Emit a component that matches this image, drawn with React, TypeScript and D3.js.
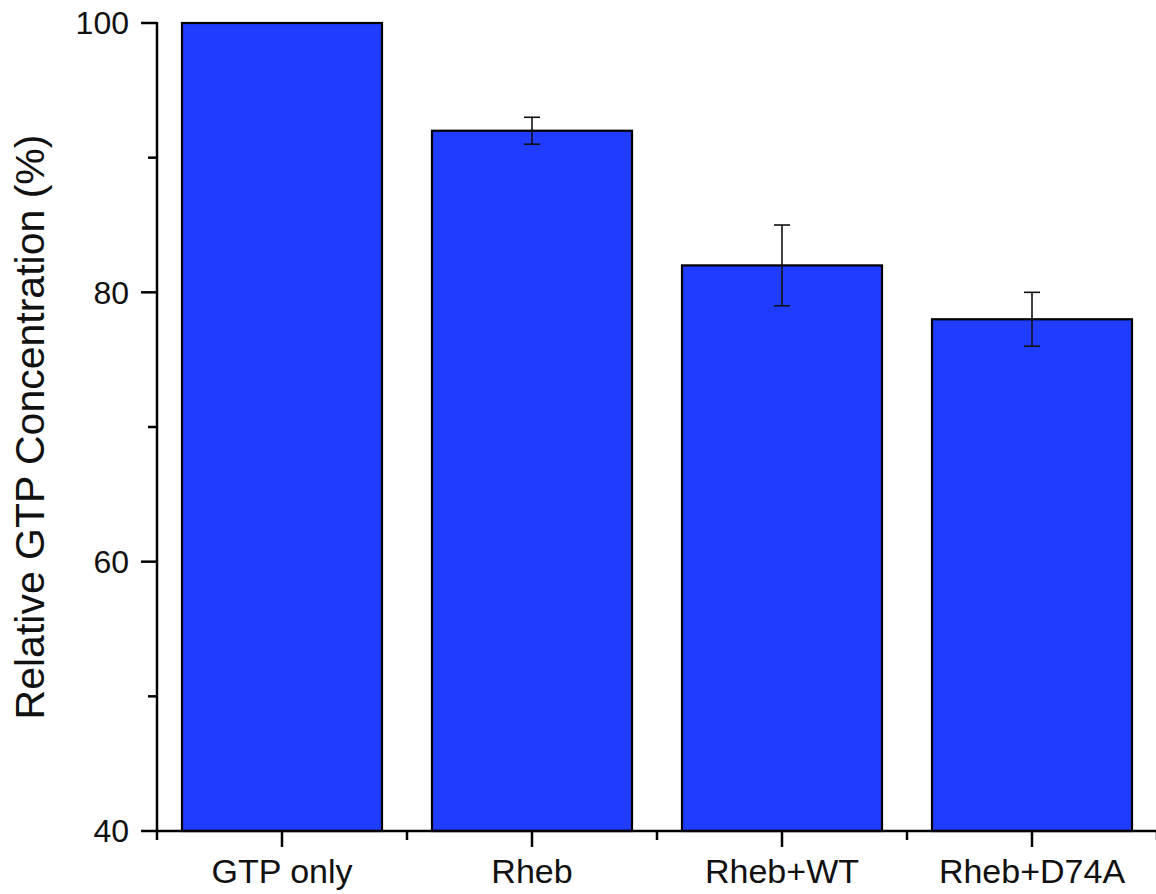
import React from "react";
import * as d3 from "d3";

const categories = ["GTP only", "Rheb", "Rheb+WT", "Rheb+D74A"];
const values = [100, 92, 82, 78];
const errors = [0, 1, 3, 2];
const yMajorTicks = [40, 60, 80, 100];
const yMinorTicks = [50, 70, 90];

const W = 1156;
const H = 894;
const left = 157;
const right = 1157;
const top = 23;
const bottom = 831;

export default function App() {
  const x = d3.scaleBand<string>().domain(categories).range([left, right]).paddingInner(0.2).paddingOuter(0.1);
  const y = d3.scaleLinear().domain([40, 100]).range([bottom, top]);
  const step = x.step();
  const font = "Arial, 'Liberation Sans', Helvetica, sans-serif";
  const minorX = d3.range(categories.length + 1).map((i) => left + i * step);

  return (
    <svg width={W} height={H} style={{ position: "absolute", left: 0, top: 0, background: "#fff" }}>
      {/* bars */}
      {categories.map((c, i) => (
        <rect
          key={c}
          x={x(c)}
          y={y(values[i])}
          width={x.bandwidth()}
          height={bottom - y(values[i])}
          fill="#1f3cff"
          stroke="#000"
          strokeWidth={2.2}
        />
      ))}
      {/* error bars */}
      {categories.map((c, i) =>
        errors[i] > 0 ? (
          <g key={"e" + c} stroke="#111" strokeWidth={1.6}>
            <line x1={x(c)! + x.bandwidth() / 2} x2={x(c)! + x.bandwidth() / 2} y1={y(values[i] + errors[i])} y2={y(values[i] - errors[i])} />
            <line x1={x(c)! + x.bandwidth() / 2 - 8} x2={x(c)! + x.bandwidth() / 2 + 8} y1={y(values[i] + errors[i])} y2={y(values[i] + errors[i])} />
            <line x1={x(c)! + x.bandwidth() / 2 - 8} x2={x(c)! + x.bandwidth() / 2 + 8} y1={y(values[i] - errors[i])} y2={y(values[i] - errors[i])} />
          </g>
        ) : null
      )}
      {/* y axis */}
      <line x1={left} x2={left} y1={top - 1} y2={bottom + 1.2} stroke="#000" strokeWidth={2.5} />
      {yMajorTicks.map((t) => (
        <g key={"ym" + t}>
          <line x1={left - 16} x2={left} y1={y(t)} y2={y(t)} stroke="#000" strokeWidth={2.5} />
          <text x={left - 28} y={y(t)} dy="0.35em" textAnchor="end" fontFamily={font} fontSize={32} fill="#111">
            {t}
          </text>
        </g>
      ))}
      {yMinorTicks.map((t) => (
        <line key={"yn" + t} x1={left - 9} x2={left} y1={y(t)} y2={y(t)} stroke="#000" strokeWidth={2.5} />
      ))}
      {/* x axis */}
      <line x1={left - 1.2} x2={W} y1={bottom} y2={bottom} stroke="#000" strokeWidth={2.5} />
      {categories.map((c) => (
        <g key={"xt" + c}>
          <line x1={x(c)! + x.bandwidth() / 2} x2={x(c)! + x.bandwidth() / 2} y1={bottom} y2={bottom + 16} stroke="#000" strokeWidth={2.5} />
          <text x={x(c)! + x.bandwidth() / 2} y={883} textAnchor="middle" fontFamily={font} fontSize={34} fill="#111">
            {c}
          </text>
        </g>
      ))}
      {minorX.map((mx, i) => (
        <line key={"xn" + i} x1={mx} x2={mx} y1={bottom} y2={bottom + 9} stroke="#000" strokeWidth={2.5} />
      ))}
      {/* y label */}
      <text
        transform={`translate(44, 427) rotate(-90)`}
        textAnchor="middle"
        fontFamily={font}
        fontSize={41}
        fill="#111"
      >
        Relative GTP Concentration (%)
      </text>
    </svg>
  );
}
